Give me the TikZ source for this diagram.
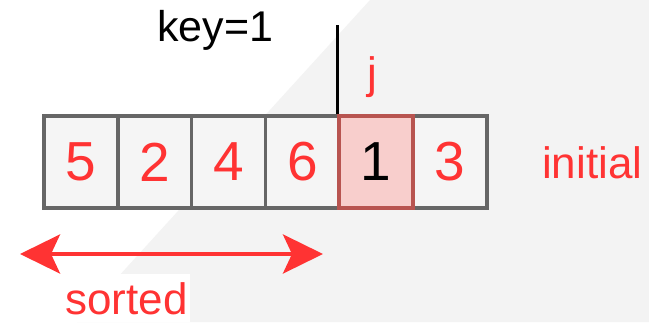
\documentclass[tikz,border=0pt]{standalone}
\usepackage{fontspec}
\setmainfont{Liberation Sans}
\usetikzlibrary{arrows.meta}
\definecolor{bggray}{HTML}{F3F3F3}
\definecolor{cellfill}{HTML}{F5F5F5}
\definecolor{cellline}{HTML}{666666}
\definecolor{hifill}{HTML}{F8CECC}
\definecolor{hiline}{HTML}{B85450}
\definecolor{txtred}{HTML}{FF3333}
\tikzset{
  cell/.style={rectangle, draw=cellline, fill=cellfill, line width=3.5pt,
    minimum width=73.8pt, minimum height=92pt, inner sep=0pt,
    font=\fontsize{55}{60}\selectfont, text=txtred},
  hicell/.style={cell, draw=hiline, fill=hifill, text=black},
  lbl/.style={inner sep=0pt, font=\fontsize{44}{50}\selectfont},
  redarrow/.style={draw=txtred, line width=4pt,
    {Stealth[length=40pt, width=39pt, inset=9pt, fill=txtred]}-{Stealth[length=40pt, width=39pt, inset=9pt, fill=txtred]}},
  pointer/.style={draw=black, line width=3.5pt}
}
\begin{document}
\begin{tikzpicture}[x=1pt, y=-1pt]
\useasboundingbox (0,0) rectangle (649,322);
% background
\fill[white] (0,0) rectangle (649,322);
\fill[bggray] (370,0) -- (649,0) -- (649,322) -- (77,322) -- cycle;
\fill[white] (0,274) rectangle (190,322);
% cells
\node[cell] (c1) at (80.9,162) {5};
\node[cell] (c2) at (154.7,162) {2};
\node[cell] (c3) at (228.5,162) {4};
\node[cell] (c4) at (302.3,162) {6};
\node[cell] (c6) at (449.9,162) {3};
\node[hicell] (c5) at (376.1,162) {1};
% texts
\node[lbl, anchor=base west, font=\fontsize{43}{50}\selectfont] (key) at (157,41) {key=1};
\node[lbl, anchor=base, text=txtred] (j) at (372,88) {j};
\node[lbl, anchor=base west, text=txtred] (initial) at (542,178) {initial};
\node[lbl, anchor=base west, text=txtred] (sorted) at (65,314) {sorted};
% pointer
\coordinate (ptr) at (c5.north west |- 0,25);
\draw[pointer] (ptr) -- (c5.north west);
% arrow
\coordinate (aL) at (20,254);
\coordinate (aR) at (323,254);
\draw[redarrow] (aL) -- (aR);
\end{tikzpicture}
\end{document}
